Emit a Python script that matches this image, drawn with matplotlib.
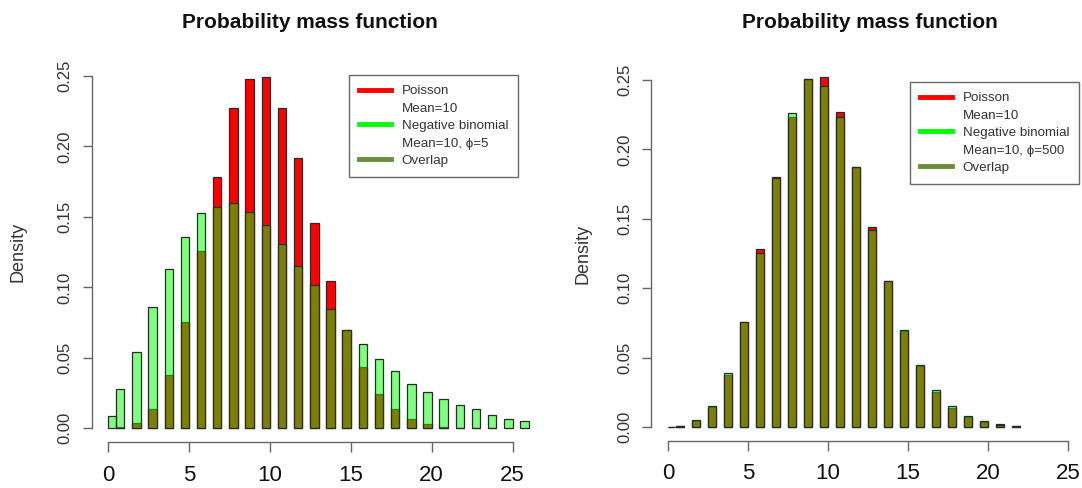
import matplotlib
matplotlib.use('Agg')
import matplotlib.pyplot as plt
from matplotlib.lines import Line2D
import numpy as np

plt.rcParams['font.family'] = ['Liberation Sans', 'DejaVu Sans']

# --------------------------------------------------------------------------------------
# Data (density, bins of width 0.5)

counts = list(range(27))

# left panel: Poisson mean 10 vs negative binomial mean 10, phi = 5
pois_left = [0.0, 0.0007, 0.0035, 0.014, 0.038, 0.0757, 0.126, 0.178, 0.227, 0.248,
             0.249, 0.227, 0.1916, 0.146, 0.1045, 0.0698, 0.0433, 0.024, 0.0135, 0.0066,
             0.003, 0.0012, 0.0005, 0.0002, 0.0001, 0.0, 0.0]
nb_left   = [0.0088, 0.0277, 0.054, 0.086, 0.113, 0.1355, 0.153, 0.157, 0.160, 0.1535,
             0.144, 0.1305, 0.1154, 0.1015, 0.085, 0.0700, 0.0596, 0.049, 0.041, 0.0315,
             0.026, 0.0206, 0.0163, 0.0135, 0.0092, 0.0069, 0.005]

# right panel: Poisson mean 10 vs negative binomial mean 10, phi = 500
pois_right = [0.0002, 0.0009, 0.0045, 0.0145, 0.0375, 0.076, 0.128, 0.180, 0.223, 0.251,
              0.252, 0.227, 0.187, 0.144, 0.105, 0.069, 0.044, 0.0255, 0.014, 0.0075,
              0.0038, 0.002, 0.001, 0.0, 0.0, 0.0, 0.0]
nb_right   = [0.0002, 0.0009, 0.0048, 0.0152, 0.039, 0.076, 0.1256, 0.1795, 0.2265, 0.251,
              0.246, 0.2235, 0.187, 0.142, 0.105, 0.070, 0.0445, 0.027, 0.0154, 0.0082,
              0.0041, 0.0018, 0.0009, 0.0, 0.0, 0.0, 0.0]

legend_left  = ['Poisson', 'Mean=10', 'Negative binomial', 'Mean=10, \u03d5=5', 'Overlap']
legend_right = ['Poisson', 'Mean=10', 'Negative binomial', 'Mean=10, \u03d5=500', 'Overlap']

title = 'Probability mass function'
xticks = [0, 5, 10, 15, 20, 25]
yticks = [0.00, 0.05, 0.10, 0.15, 0.20, 0.25]

# --------------------------------------------------------------------------------------
# Style

W, H = 1082, 488
red = '#FF0000'
green = (0, 1, 0, 0.5)
overlap = '#6B8E3A'
edge = '#2a2a2a'
axcol = '#666666'

fig = plt.figure(figsize=(W / 100, H / 100), dpi=100)

# axes boxes in pixels: (left, top, right, bottom)
boxes = [(91.5, 61.9, 545.5, 442.4), (651.4, 66.1, 1100.6, 440.9)]
title_x = [310, 870]
ylab_x = [18.5, 583]
legend_pos = [(349, 75), (910, 82)]


def draw_panel(box, pois, nb, labels, tx, lx, lpos):
    l, t, r, b = box
    ax = fig.add_axes([l / W, 1 - b / H, (r - l) / W, (b - t) / H])
    x = np.array(counts, dtype=float)
    left = np.where(x == 0, 0.0, x - 0.52)
    width = np.where(x == 0, 0.45, 0.52)
    # empty bins get no outline
    lw_p = np.where(np.array(pois) > 0, 0.9, 0.0)
    lw_n = np.where(np.array(nb) > 0, 0.9, 0.0)
    ax.bar(left, pois, width=width, align='edge', color=red, edgecolor=edge, linewidth=lw_p)
    ax.bar(left, nb, width=width, align='edge', color=green, edgecolor=edge, linewidth=lw_n)

    ax.set_xlim(-1.04, 27.04)
    ax.set_ylim(-0.01, 0.26)
    for s in ['top', 'right']:
        ax.spines[s].set_visible(False)
    ax.spines['left'].set_bounds(0, 0.25)
    ax.spines['bottom'].set_bounds(0, 25)
    for s in ['left', 'bottom']:
        ax.spines[s].set_color(axcol)
        ax.spines[s].set_linewidth(1)

    ax.set_xticks(xticks)
    ax.set_xticklabels([str(v) for v in xticks])
    ax.set_yticks(yticks)
    ax.set_yticklabels(['%.2f' % v for v in yticks])
    ax.tick_params(axis='x', length=7, width=1, color=axcol, labelsize=16,
                   labelcolor='#111111', pad=9)
    ax.tick_params(axis='y', length=6.5, width=1, color=axcol, labelsize=12,
                   labelcolor='#333333', pad=7, labelrotation=90)
    for lab in ax.get_yticklabels():
        lab.set_verticalalignment('center')

    fig.text(tx / W, 1 - 23 / H, title, ha='center', va='center',
             fontsize=15, fontweight='bold', color='#111111')
    fig.text(lx / W, 1 - ((t + b) / 2) / H, 'Density', ha='center', va='center',
             rotation=90, fontsize=13, color='#333333')

    handles = [Line2D([], [], color=red, lw=3.5),
               Line2D([], [], color='none'),
               Line2D([], [], color='#00FF00', lw=3.5),
               Line2D([], [], color='none'),
               Line2D([], [], color=overlap, lw=3.5)]
    leg = ax.legend(handles, labels, loc='upper left',
                    bbox_to_anchor=(lpos[0] / W, 1 - lpos[1] / H),
                    bbox_transform=fig.transFigure, borderaxespad=0,
                    fontsize=9.6, frameon=True, fancybox=False, shadow=False,
                    handlelength=2.4, handletextpad=0.8, labelspacing=0.38,
                    borderpad=0.75)
    leg.get_frame().set_edgecolor('#444444')
    leg.get_frame().set_linewidth(1)
    for txt in leg.get_texts():
        txt.set_color('#333333')
    return ax


draw_panel(boxes[0], pois_left, nb_left, legend_left, title_x[0], ylab_x[0], legend_pos[0])
draw_panel(boxes[1], pois_right, nb_right, legend_right, title_x[1], ylab_x[1], legend_pos[1])

fig.savefig('out.png', dpi=100)
